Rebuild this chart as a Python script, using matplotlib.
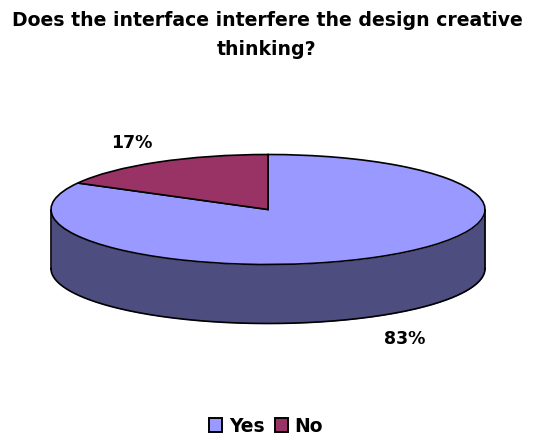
import numpy as np
import matplotlib
matplotlib.use("Agg")
import matplotlib.pyplot as plt
from matplotlib.patches import Patch

categories = ["Yes", "No"]
shares = [83, 17]
top_colors = ["#9999FF", "#993366"]
side_color = "#4D4D80"
title_lines = ["Does the interface interfere the design creative", "thinking?"]

W, H = 533, 439
cx, cy = 268, 210.5   # pie centre, px
rx, ry = 217, 55      # ellipse radii, px
depth = 59 / ry

plt.rcParams['font.family'] = ['DejaVu Sans']

fig = plt.figure(figsize=(W / 100, H / 100), dpi=100)
ax = fig.add_axes([0, 0, 1, 1])

theta = np.linspace(np.pi, 2 * np.pi, 200)
xs = np.cos(theta)
ys = np.sin(theta)
ax.fill_between(xs, ys, ys - depth, color=side_color, lw=0)
ax.plot(xs, ys - depth, color='black', lw=1.2)
ax.plot([-1, -1], [0, -depth], color='black', lw=1.2)
ax.plot([1, 1], [0, -depth], color='black', lw=1.2)

wedges, _ = ax.pie(shares, colors=top_colors, startangle=90, counterclock=False,
                   wedgeprops=dict(edgecolor='black', linewidth=1.2))

ax.set_aspect('auto')
ax.set_xlim((0 - cx) / rx, (W - cx) / rx)
ax.set_ylim((cy - H) / ry, cy / ry)
ax.axis('off')

# percent labels
ax.text((132 - cx) / rx, (cy - 143) / ry, f"{shares[1]}%", ha='center', va='center',
        fontsize=12.5, fontweight='bold', color='black')
ax.text((405 - cx) / rx, (cy - 339) / ry, f"{shares[0]}%", ha='center', va='center',
        fontsize=12.5, fontweight='bold', color='black')

# two lines placed apart, spacing is wider than linespacing gives by default
fig.text(267 / W, 1 - 25.5 / H, title_lines[0], ha='center', va='baseline', fontsize=13.6,
         fontweight='bold', color='black')
fig.text(267 / W, 1 - 55 / H, title_lines[1], ha='center', va='baseline', fontsize=13.6,
         fontweight='bold', color='black')

handles = [Patch(facecolor=c, edgecolor='black', linewidth=1.4, label=n)
           for c, n in zip(top_colors, categories)]
fig.legend(handles=handles, loc='center', bbox_to_anchor=(266 / W, 1 - 427 / H), ncol=2,
           frameon=False, prop=dict(size=13.5, weight='bold'), handlelength=0.7,
           handleheight=0.7, handletextpad=0.35, columnspacing=0.55)

fig.savefig("out.png", dpi=100)
